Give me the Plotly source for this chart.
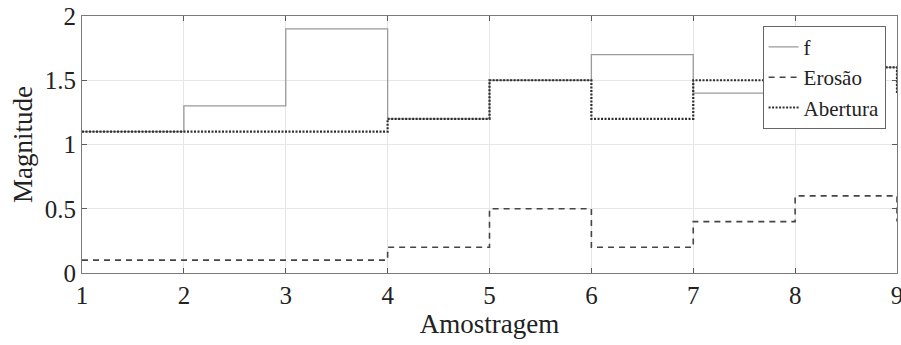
import plotly.graph_objects as go

x = [1, 2, 3, 4, 5, 6, 7, 8, 9]
f_vals = [1.1, 1.3, 1.9, 1.2, 1.5, 1.7, 1.4, 1.6, 1.4]
erosao = [0.1, 0.1, 0.1, 0.2, 0.5, 0.2, 0.4, 0.6, 0.4]
abertura = [1.1, 1.1, 1.1, 1.2, 1.5, 1.2, 1.5, 1.6, 1.4]
x_ticks = [1, 2, 3, 4, 5, 6, 7, 8, 9]
y_ticks = [0, 0.5, 1, 1.5, 2]
y_tick_text = ["0", "0.5", "1", "1.5", "2"]

FONT = "Times New Roman, Liberation Serif"

fig = go.Figure()
fig.add_trace(go.Scatter(x=x, y=f_vals, mode="lines", name="f", line_shape="hv",
                         line=dict(color="#9a9a9a", width=1.3)))
fig.add_trace(go.Scatter(x=x, y=erosao, mode="lines", name="Erosão", line_shape="hv",
                         line=dict(color="#454545", width=1.6, dash="6px,5px")))
fig.add_trace(go.Scatter(x=x, y=abertura, mode="lines", name="Abertura", line_shape="hv",
                         line=dict(color="#2e2e2e", width=2.2, dash="2px,1.5px")))

axis_common = dict(showline=True, linecolor="#7a7a7a", linewidth=1.2, mirror="ticks",
                   ticks="inside", ticklen=5, tickcolor="#5a5a5a",
                   showgrid=True, gridcolor="#e6e6e6", gridwidth=1, zeroline=False,
                   ticklabeloverflow="allow", automargin=False,
                   tickfont=dict(family=FONT, size=25, color="#222"))

fig.update_layout(
    width=901, height=345,
    margin=dict(l=82, r=4, t=16, b=72),
    paper_bgcolor="white", plot_bgcolor="white",
    font=dict(family=FONT, color="#222"),
    xaxis=dict(range=[1, 9], tickvals=x_ticks,
               title=dict(text="Amostragem", font=dict(family=FONT, size=27), standoff=2),
               **axis_common),
    yaxis=dict(range=[0, 2], tickvals=y_ticks, ticktext=y_tick_text,
               title=dict(text="Magnitude", font=dict(family=FONT, size=27), standoff=4),
               **axis_common),
    legend=dict(x=0.986, y=0.962, xanchor="right", yanchor="top",
                bgcolor="white", bordercolor="#666", borderwidth=1,
                font=dict(family=FONT, size=21, color="#222"),
                tracegroupgap=0, itemwidth=30),
    showlegend=True,
)

fig.write_html("out.html")
